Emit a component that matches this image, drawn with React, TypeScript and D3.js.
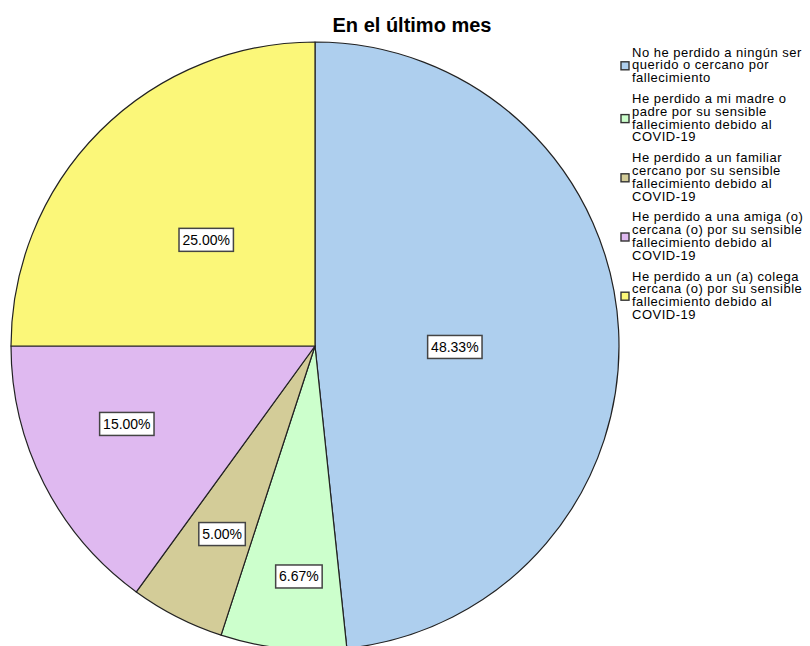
import React from "react";
import * as d3 from "d3";

const title = "En el último mes";
const categories = [
  "No he perdido a ningún ser querido o cercano por fallecimiento",
  "He perdido a mi madre o padre por su sensible fallecimiento debido al COVID-19",
  "He perdido a un familiar cercano por su sensible fallecimiento debido al COVID-19",
  "He perdido a una amiga (o) cercana (o) por su sensible fallecimiento debido al COVID-19",
  "He perdido a un (a) colega cercana (o) por su sensible fallecimiento debido al COVID-19",
];
const legendLines = [
  ["No he perdido a ningún ser", "querido o cercano por", "fallecimiento"],
  ["He perdido a mi madre o", "padre por su sensible", "fallecimiento debido al", "COVID-19"],
  ["He perdido a un familiar", "cercano por su sensible", "fallecimiento debido al", "COVID-19"],
  ["He perdido a una amiga (o)", "cercana (o) por su sensible", "fallecimiento debido al", "COVID-19"],
  ["He perdido a un (a) colega", "cercana (o) por su sensible", "fallecimiento debido al", "COVID-19"],
];
const values = [48.33, 6.67, 5.0, 15.0, 25.0];
const labels = ["48.33%", "6.67%", "5.00%", "15.00%", "25.00%"];

const colors = ["#aecfee", "#ccffcc", "#d3cc98", "#dfb9f0", "#fbf779"];
const labelRadiusFrac = [0.46, 0.76, 0.69, 0.67, 0.5];
const labelAngleShiftDeg = [3.4, -2, -0.7, 4.5, -0.7];

const W = 810;
const H = 646;
const cx = 315;
const cy = 346;
const R = 304;

export default function App() {
  const pie = d3
    .pie<number>()
    .sort(null)
    .value((d) => d)
    .startAngle(0)
    .endAngle(2 * Math.PI);
  const arcs = pie(values);
  const arc = d3.arc<d3.PieArcDatum<number>>().innerRadius(0).outerRadius(R);

  const font = "'Liberation Sans', Arial, sans-serif";

  const lineH = 12.8;
  const itemGap = 8;
  let y0 = 52;
  const legendItems = legendLines.map((lines, i) => {
    const start = y0;
    y0 += lines.length * lineH + itemGap;
    return { lines, start, i };
  });

  return (
    <svg
      width={W}
      height={H}
      style={{ position: "absolute", left: 0, top: 0, background: "#fff" }}
      fontFamily={font}
    >
      <text x={412} y={32} textAnchor="middle" fontSize={20} fontWeight="bold" fill="#000">
        {title}
      </text>
      <g transform={`translate(${cx},${cy})`}>
        {arcs.map((a, i) => (
          <path
            key={i}
            d={arc(a) || ""}
            fill={colors[i]}
            stroke="#222"
            strokeWidth={1.2}
            strokeLinejoin="round"
          >
            <title>{categories[i]}</title>
          </path>
        ))}
        {arcs.map((a, i) => {
          const mid = (a.startAngle + a.endAngle) / 2 + (labelAngleShiftDeg[i] * Math.PI) / 180;
          const r = R * labelRadiusFrac[i];
          const x = r * Math.sin(mid);
          const y = -r * Math.cos(mid);
          const w = labels[i].length * 7.9 + 7;
          const h = 23;
          return (
            <g key={"l" + i} transform={`translate(${x},${y})`}>
              <rect x={-w / 2} y={-h / 2} width={w} height={h} fill="#fff" stroke="#444" strokeWidth={1.5} />
              <text x={0} y={5} textAnchor="middle" fontSize={14} fill="#000">
                {labels[i]}
              </text>
            </g>
          );
        })}
      </g>
      <g>
        {legendItems.map(({ lines, start, i }) => {
          const blockCenter = start + ((lines.length - 1) * lineH) / 2 + 1;
          return (
            <g key={"lg" + i}>
              <rect
                x={621}
                y={blockCenter - 4}
                width={8}
                height={8}
                fill={colors[i]}
                stroke="#333"
                strokeWidth={1.4}
              />
              {lines.map((t, j) => (
                <text
                  key={j}
                  x={632}
                  y={start + j * lineH + 4.5}
                  fontSize={13}
                  letterSpacing={0.5}
                  fill="#000"
                >
                  {t}
                </text>
              ))}
            </g>
          );
        })}
      </g>
    </svg>
  );
}
